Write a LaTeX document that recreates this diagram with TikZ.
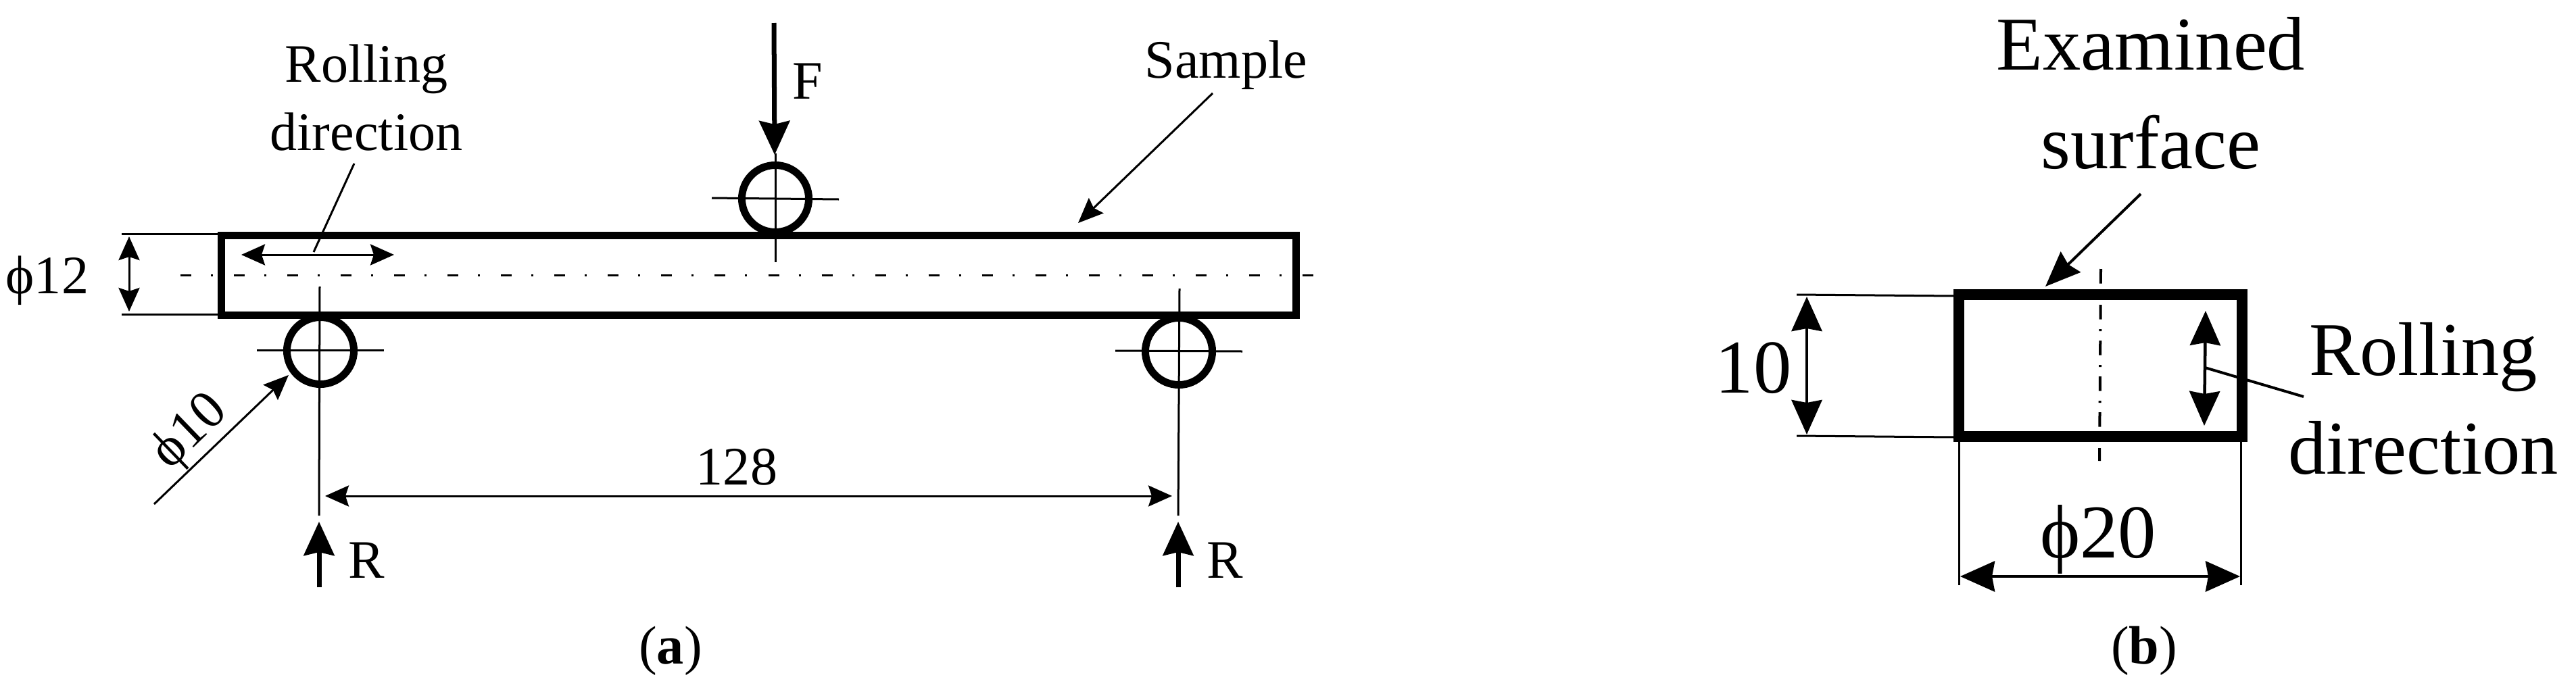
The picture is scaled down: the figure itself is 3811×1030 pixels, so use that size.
\documentclass[tikz,border=0pt]{standalone}
\usepackage{fontspec}
\setmainfont{Liberation Serif}
\usetikzlibrary{arrows.meta}

\begin{document}
\begin{tikzpicture}[x = 0.01cm, y = -0.01cm]
	\tikzstyle{smallText}=[inner sep = 0pt, font = \fontsize{22.8}{28.7}\selectfont, align = center]
	\tikzstyle{bigText}=[inner sep = 0pt, font = \fontsize{32}{41.3}\selectfont, align = center]
	\tikzstyle{beamStyle}=[shape = rectangle, draw, inner sep = 0pt, line width = 0.11cm]
	\tikzstyle{rollerStyle}=[shape = circle, draw, inner sep = 0pt, minimum size = 0.99cm, line width = 0.11cm]
	\tikzstyle{thinStyle}=[line width = 0.03cm]
	\tikzstyle{axisStyle}=[line width = 0.03cm, dash pattern = on 0.16cm off 0.29cm on 0.03cm off 0.31cm]
	\tikzstyle{axisStyleB}=[line width = 0.04cm, dash pattern = on 0.215cm off 0.145cm on 0.03cm off 0.14cm]
	\tikzstyle{dimStyle}=[thinStyle, arrows = {Stealth[length = 0.35cm, width = 0.31cm, inset = 0.05cm]-Stealth[length = 0.35cm, width = 0.31cm, inset = 0.05cm]}]
	\tikzstyle{pointerStyle}=[thinStyle, -{Stealth[length = 0.37cm, width = 0.31cm, inset = 0.05cm]}]
	\tikzstyle{forceStyle}=[line width = 0.07cm, -{Stealth[length = 0.5cm, width = 0.45cm, inset = 0.05cm]}]
	\tikzstyle{bigDimStyle}=[line width = 0.045cm, arrows = {Stealth[length = 0.51cm, width = 0.45cm, inset = 0.04cm]-Stealth[length = 0.51cm, width = 0.45cm, inset = 0.04cm]}]
	\useasboundingbox (0,0) rectangle (3811,1030);
	% (a) beam and rollers
	\node[beamStyle, minimum width = 15.89cm, minimum height = 1.17cm] (beam) at (1122.5,407.5) {};
	\node[rollerStyle] (r0) at (1147,294) {};
	\node[rollerStyle] (r1) at (474,519) {};
	\node[rollerStyle] (r2) at (1744,520) {};
	\coordinate (axisA0) at (267,407);
	\coordinate (axisA1) at (1947,407);
	\draw[axisStyle] (axisA0) -- (axisA1);
	\coordinate (h0a) at (1053,293);
	\coordinate (h0b) at (1241,295);
	\coordinate (v0a) at (1147,227);
	\coordinate (v0b) at (1147,388);
	\coordinate (h1a) at (380,518);
	\coordinate (h1b) at (568,518);
	\coordinate (v1a) at (473,424);
	\coordinate (v1b) at (472,763);
	\coordinate (h2a) at (1650,519);
	\coordinate (h2b) at (1838,520);
	\coordinate (v2a) at (1745,427);
	\coordinate (v2b) at (1743,763);
	\draw[thinStyle] (h0a) -- (h0b);
	\draw[thinStyle] (v0a) -- (v0b);
	\draw[thinStyle] (h1a) -- (h1b);
	\draw[thinStyle] (v1a) -- (v1b);
	\draw[thinStyle] (h2a) -- (h2b);
	\draw[thinStyle] (v2a) -- (v2b);
	% (a) forces
	\coordinate (f0) at (1145,34);
	\coordinate (f1) at (1146,229);
	\coordinate (f2) at (472,869);
	\coordinate (f3) at (472,772);
	\coordinate (f4) at (1743,869);
	\coordinate (f5) at (1743,772);
	\draw[forceStyle] (f0) -- (f1);
	\draw[forceStyle] (f2) -- (f3);
	\draw[forceStyle] (f4) -- (f5);
	\node[smallText, anchor = base] (labelF) at (1195,146) {F};
	\node[smallText, anchor = base] (labelR0) at (542,855) {R};
	\node[smallText, anchor = base] (labelR1) at (1812,855) {R};
	% (a) dimensions
	\coordinate (e0a) at (180,346);
	\coordinate (e0b) at (323,346);
	\coordinate (e1a) at (180,465);
	\coordinate (e1b) at (323,465);
	\coordinate (d0a) at (191,350);
	\coordinate (d0b) at (191,461);
	\coordinate (d1a) at (481,734);
	\coordinate (d1b) at (1734,734);
	\draw[thinStyle] (e0a) -- (e0b);
	\draw[thinStyle] (e1a) -- (e1b);
	\draw[dimStyle] (d0a) -- (d0b);
	\draw[dimStyle] (d1a) -- (d1b);
	\node[smallText, anchor = base] (dim12) at (70,434) {ϕ12};
	\node[smallText, anchor = base] (dim128) at (1090,717) {128};
	\coordinate (p0a) at (228,746);
	\coordinate (p0b) at (427,555);
	\draw[pointerStyle] (p0a) -- (p0b);
	\node[smallText, rotate = 44] (dim10) at (282,640) {ϕ10};
	% (a) callouts
	\node[smallText, anchor = base] (sample) at (1814,115) {Sample};
	\coordinate (p1a) at (1794,138);
	\coordinate (p1b) at (1595,330);
	\draw[pointerStyle] (p1a) -- (p1b);
	\node[smallText] (rollA) at (542,145) {Rolling\\direction};
	\coordinate (l0a) at (524,242);
	\coordinate (l0b) at (464,373);
	\draw[thinStyle] (l0a) -- (l0b);
	\coordinate (d2a) at (357,377);
	\coordinate (d2b) at (583,377);
	\draw[dimStyle] (d2a) -- (d2b);
	\node[smallText, anchor = base] (capA) at (992,982) {(\textbf{a})};
	% (b) section
	\node[beamStyle, line width = 0.155cm, minimum width = 4.19cm, minimum height = 2.1cm] (section) at (3107.5,541) {};
	\coordinate (axisB0) at (3108,398);
	\coordinate (axisB1) at (3106,682);
	\draw[axisStyleB] (axisB0) -- (axisB1);
	\coordinate (e2a) at (2658,436);
	\coordinate (e2b) at (2891,438);
	\coordinate (e3a) at (2658,645);
	\coordinate (e3b) at (2891,647);
	\coordinate (e4a) at (2898,654);
	\coordinate (e4b) at (2898,866);
	\coordinate (e5a) at (3315,654);
	\coordinate (e5b) at (3315,866);
	\draw[thinStyle] (e2a) -- (e2b);
	\draw[thinStyle] (e3a) -- (e3b);
	\draw[thinStyle] (e4a) -- (e4b);
	\draw[thinStyle] (e5a) -- (e5b);
	\coordinate (d3a) at (2673,439);
	\coordinate (d3b) at (2673,643);
	\coordinate (d4a) at (2900,853);
	\coordinate (d4b) at (3314,853);
	\coordinate (d5a) at (3263,460);
	\coordinate (d5b) at (3261,630);
	\draw[bigDimStyle] (d3a) -- (d3b);
	\draw[bigDimStyle] (d4a) -- (d4b);
	\draw[bigDimStyle] (d5a) -- (d5b);
	\node[bigText, anchor = base] (dim10b) at (2594,581) {10};
	\node[bigText, anchor = base] (dim20) at (3104,825) {ϕ20};
	% (b) callouts
	\node[bigText] (surf) at (3182,138) {Examined\\surface};
	\coordinate (p2a) at (3167,287);
	\coordinate (p2b) at (3026,424);
	\draw[line width = 0.04cm, -{Stealth[length = 0.52cm, width = 0.42cm, inset = 0.05cm]}] (p2a) -- (p2b);
	\node[bigText] (rollB) at (3585,590) {Rolling\\direction};
	\coordinate (l1a) at (3262,544);
	\coordinate (l1b) at (3408,587);
	\draw[line width = 0.04cm] (l1a) -- (l1b);
	\node[smallText, anchor = base] (capB) at (3172,982) {(\textbf{b})};
\end{tikzpicture}
\end{document}
